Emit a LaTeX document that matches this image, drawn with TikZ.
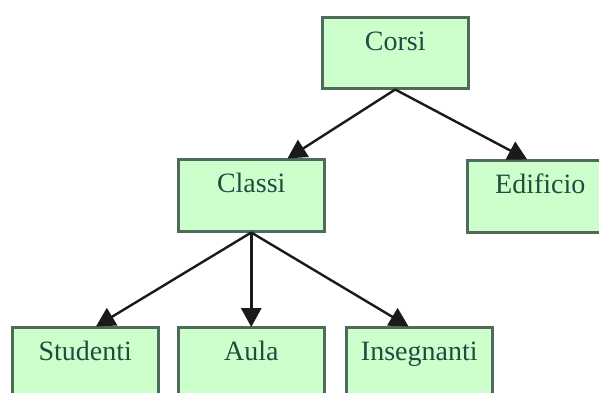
\documentclass[tikz,border=0pt]{standalone}
\usepackage{fontspec}
\setmainfont{Liberation Serif}
\usetikzlibrary{arrows.meta}
\definecolor{boxfill}{HTML}{CCFFCC}
\definecolor{boxline}{HTML}{4F6B5C}
\definecolor{boxtext}{HTML}{1F4D40}
\definecolor{linkline}{HTML}{1A1A1A}
\tikzset{
  entity/.style={draw=boxline, fill=boxfill, line width=2.5pt, rectangle,
    anchor=north west, minimum width=146pt, inner xsep=0pt, inner ysep=0pt,
    text height=33pt, text depth=39pt, text=boxtext,
    font=\fontsize{28}{30}\selectfont},
  link/.style={draw=linkline, line width=2.4pt,
    -{Triangle[length=19pt,width=20pt]}, shorten >=-1pt}
}
\begin{document}
\begin{tikzpicture}[x=1pt,y=-1pt]
  \useasboundingbox (0,0) rectangle (599,392);
  \clip (0,0) rectangle (599,392);
  \fill[white] (0,0) rectangle (599,392);

  % hierarchy boxes
  \node[entity, minimum height=71pt, text depth=38pt] (corsi) at (321,16) {Corsi};
  \node[entity] (classi)     at (177,158) {Classi};
  \node[entity] (edificio)   at (466,159) {Edificio};
  \node[entity] (studenti)   at (11,326)  {Studenti};
  \node[entity] (aula)       at (177,326) {Aula};
  \node[entity] (insegnanti) at (345,326) {Insegnanti};

  % links between levels
  \draw[link] (corsi.south)  -- ([xshift=37pt]classi.north);
  \draw[link] (corsi.south)  -- ([xshift=-14pt]edificio.north);
  \draw[link] (classi.south) -- ([xshift=11.5pt]studenti.north);
  \draw[link, line width=3.2pt] (classi.south) -- (aula.north);
  \draw[link] (classi.south) -- ([xshift=-11.5pt]insegnanti.north);
\end{tikzpicture}
\end{document}
